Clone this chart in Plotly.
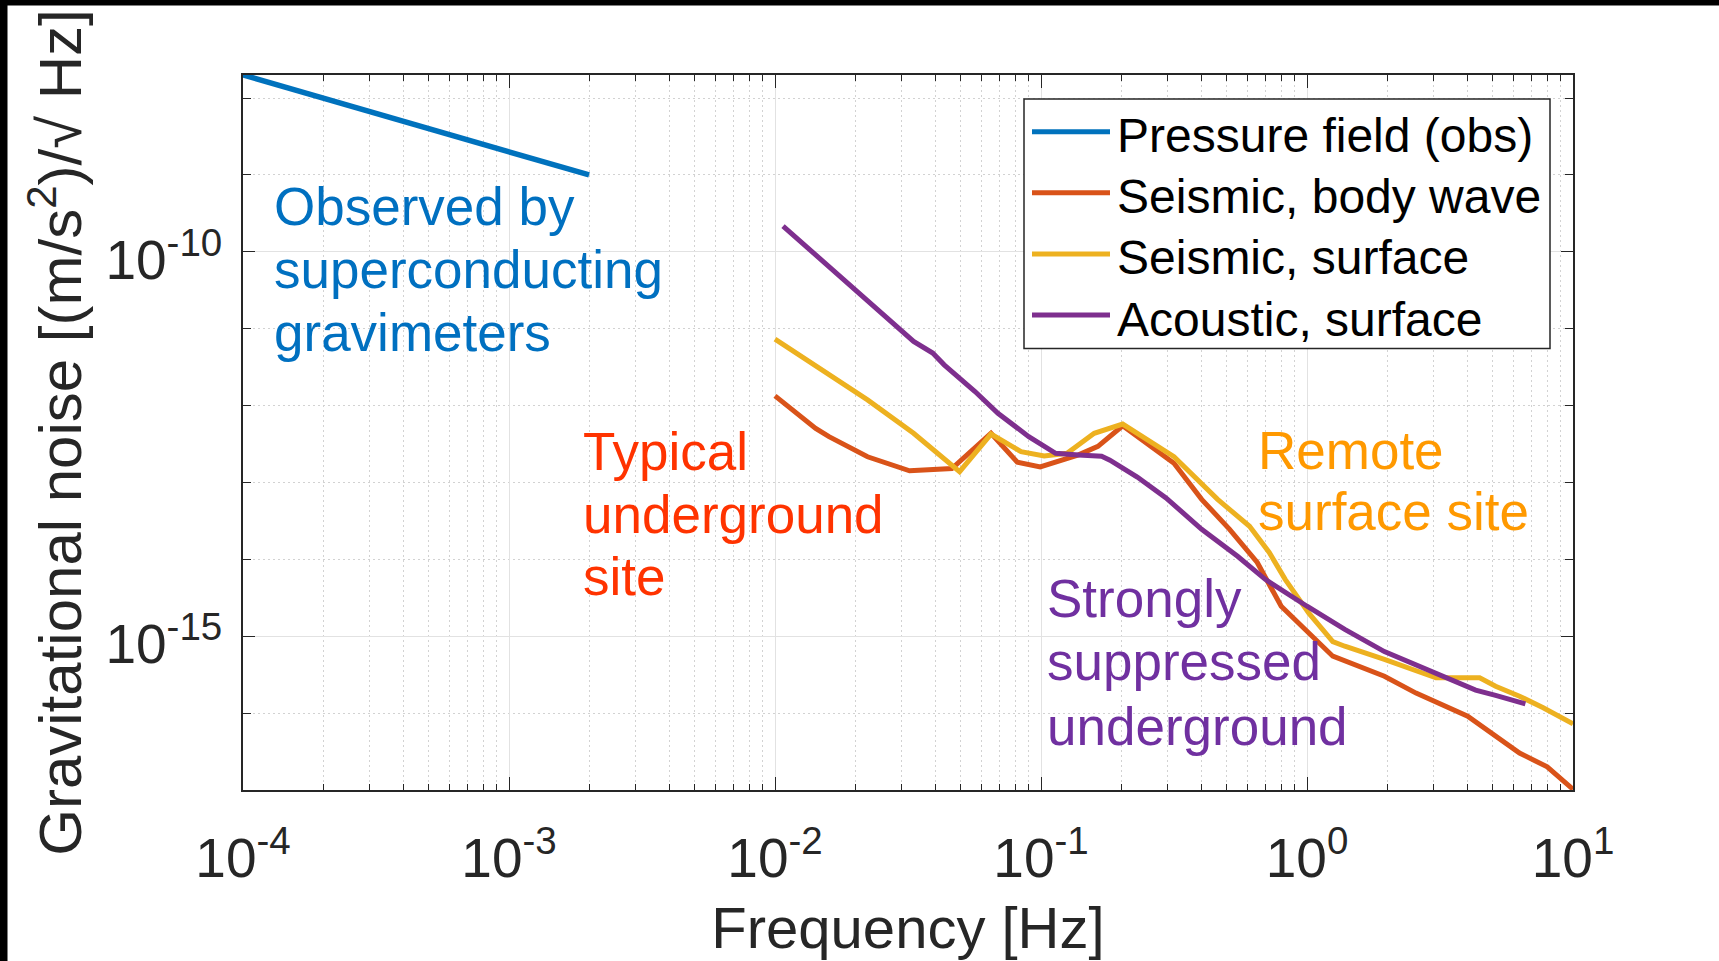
import plotly.graph_objects as go

# ---------------- data ----------------
series_names = ["Pressure field (obs)", "Seismic, body wave", "Seismic, surface", "Acoustic, surface"]
series_colors = ["#0072BD", "#D95319", "#EDB120", "#7E2F8E"]

pressure_freq = [1.0e-4, 2.0e-3]
pressure_noise = [2.0e-8, 1.0e-9]

body_freq = [0.0100, 0.01422, 0.01596, 0.02228, 0.03206, 0.04624, 0.06486, 0.08147,
             0.09931, 0.1384, 0.1637, 0.2028, 0.3162, 0.4018, 0.5117, 0.6501,
             0.7998, 0.9840, 1.250, 1.954, 2.570, 4.018, 6.295, 8.000, 10.0]
body_noise = [1.337e-12, 5.06e-13, 3.94e-13, 2.16e-13, 1.419e-13, 1.514e-13, 4.37e-13, 1.84e-13,
              1.592e-13, 2.29e-13, 2.95e-13, 5.47e-13, 1.778e-13, 6.03e-14, 2.455e-14, 9.12e-15,
              2.455e-15, 1.230e-15, 5.50e-16, 3.02e-16, 1.820e-16, 9.12e-17, 3.02e-17, 2.00e-17, 1.023e-17]

surface_freq = [0.0100, 0.01445, 0.02228, 0.03319, 0.04550, 0.04943, 0.06486, 0.08414,
                0.1028, 0.1253, 0.1585, 0.2028, 0.3162, 0.4613, 0.6081, 0.7211,
                0.8279, 1.016, 1.250, 1.387, 1.954, 3.055, 3.631, 4.457,
                5.117, 6.295, 7.727, 10.0]
surface_noise = [7.328e-12, 3.236e-12, 1.186e-12, 4.365e-13, 1.778e-13, 1.380e-13, 4.266e-13, 2.512e-13,
                 2.208e-13, 2.399e-13, 4.365e-13, 5.754e-13, 2.163e-13, 6.026e-14, 2.692e-14, 1.230e-14,
                 5.495e-15, 1.995e-15, 8.511e-16, 7.413e-16, 5.012e-16, 2.884e-16, 2.884e-16, 2.884e-16,
                 2.239e-16, 1.660e-16, 1.175e-16, 7.244e-17]

acoustic_freq = [0.01072, 0.01596, 0.02228, 0.03319, 0.03917, 0.04325, 0.05649, 0.06887,
                 0.08995, 0.1135, 0.1384, 0.1690, 0.1816, 0.2301, 0.2951, 0.4018,
                 0.5483, 0.6966, 1.000, 1.387, 1.954, 3.162, 4.305, 5.117, 6.622]
acoustic_noise = [2.163e-10, 6.501e-11, 2.388e-11, 6.839e-12, 4.819e-12, 3.388e-12, 1.524e-12, 7.943e-13,
                  3.945e-13, 2.399e-13, 2.275e-13, 2.188e-13, 1.950e-13, 1.175e-13, 6.310e-14, 2.455e-14,
                  1.096e-14, 5.495e-15, 2.455e-15, 1.230e-15, 6.310e-16, 3.162e-16, 1.995e-16, 1.698e-16, 1.318e-16]

x_tickvals = [1e-4, 1e-3, 1e-2, 1e-1, 1e0, 1e1]
x_ticktext = ["10<sup>-4</sup>", "10<sup>-3</sup>", "10<sup>-2</sup>", "10<sup>-1</sup>",
              "10<sup>0</sup>", "10<sup>1</sup>"]
x_minorvals = [m * 10.0 ** k for k in range(-4, 1) for m in range(2, 10)]
y_tickvals = [1e-15, 1e-10]
y_ticktext = ["10<sup>-15</sup>", "10<sup>-10</sup>"]
y_minorvals = [10.0 ** k for k in range(-17, -7)]

x_title = "Frequency [Hz]"
y_title = "Gravitational noise [(m/s<sup>2</sup>)/√ Hz]"

note_blue = ["Observed by", "superconducting", "gravimeters"]
note_red = ["Typical", "underground", "site"]
note_orange = ["Remote", "surface site"]
note_purple = ["Strongly", "suppressed", "underground"]

# ---------------- layout geometry ----------------
FW, FH = 1719, 961
ML, MR, MT, MB = 243, 146, 75, 171
PW, PH = FW - ML - MR, FH - MT - MB
FONT = "Liberation Sans, Arial, Helvetica, sans-serif"
AXC = "#262626"


def px(X):
    return (X - ML) / PW


def py(Y):
    return (MT + PH - Y) / PH


fig = go.Figure()
all_x = [pressure_freq, body_freq, surface_freq, acoustic_freq]
all_y = [pressure_noise, body_noise, surface_noise, acoustic_noise]
widths = [5.5, 5, 5, 5]
for xs, ys, name, col, w in zip(all_x, all_y, series_names, series_colors, widths):
    fig.add_trace(go.Scatter(x=xs, y=ys, mode="lines", name=name, showlegend=False,
                             line=dict(color=col, width=w), cliponaxis=False))

shapes = []
annotations = []

# black screenshot borders (top & left)
shapes.append(dict(type="rect", xref="paper", yref="paper", x0=px(0), x1=px(FW), y0=py(5.5), y1=py(0),
                   fillcolor="black", line=dict(width=0), layer="above"))
shapes.append(dict(type="rect", xref="paper", yref="paper", x0=px(0), x1=px(7.5), y0=py(FH), y1=py(0),
                   fillcolor="black", line=dict(width=0), layer="above"))

# legend box (drawn manually to match the long MATLAB line samples)
LEG_L, LEG_R, LEG_T, LEG_B = 1024, 1550, 99, 348.5
shapes.append(dict(type="rect", xref="paper", yref="paper", x0=px(LEG_L), x1=px(LEG_R),
                   y0=py(LEG_B), y1=py(LEG_T), fillcolor="white",
                   line=dict(color=AXC, width=1.5), layer="above"))
for i, (name, col) in enumerate(zip(series_names, series_colors)):
    ry = 131.7 + i * 61.1
    shapes.append(dict(type="line", xref="paper", yref="paper", x0=px(1032), x1=px(1110),
                       y0=py(ry), y1=py(ry), line=dict(color=col, width=5), layer="above"))
    annotations.append(dict(text=name, xref="paper", yref="paper", x=px(1115), y=py(ry + 4),
                            xanchor="left", yanchor="middle", showarrow=False,
                            font=dict(family=FONT, size=48, color="black")))


def add_note(lines, left, baselines, color, size=53):
    for t, b in zip(lines, baselines):
        annotations.append(dict(text=t, xref="paper", yref="paper", x=px(left), y=py(b - 0.3465 * size),
                                xanchor="left", yanchor="middle", showarrow=False,
                                font=dict(family=FONT, size=size, color=color)))


add_note(note_blue, 272, [224.7, 288.3, 350.8], "#0070C0")
add_note(note_red, 581, [470, 533.3, 595], "#FF3300")
add_note(note_orange, 1256, [469.3, 530], "#FF9900")
add_note(note_purple, 1045, [616.7, 680, 745], "#7030A0")

axis_common = dict(
    type="log", showline=True, linecolor=AXC, linewidth=1.5, mirror="ticks",
    ticks="inside", tickcolor=AXC, tickwidth=1.2,
    showgrid=True, gridcolor="#e2e2e2", gridwidth=1, zeroline=False,
    tickfont=dict(family=FONT, size=55, color=AXC),
)

fig.update_layout(
    width=FW, height=FH,
    margin=dict(l=ML, r=MR, t=MT, b=MB, pad=0),
    paper_bgcolor="white", plot_bgcolor="white",
    showlegend=False,
    xaxis=dict(
        **axis_common,
        range=[-4, 1],
        tickmode="array", tickvals=x_tickvals, ticktext=x_ticktext, ticklen=13,
        ticklabelstandoff=19,
        minor=dict(tickmode="array", tickvals=x_minorvals, ticks="inside", ticklen=6,
                   tickcolor=AXC, tickwidth=1.2, showgrid=True, gridcolor="#d2d2d2",
                   griddash="2px,3px", gridwidth=1),
        title=dict(text=x_title, font=dict(family=FONT, size=58, color=AXC), standoff=20),
    ),
    yaxis=dict(
        **axis_common,
        range=[-17, -7.7],
        tickmode="array", tickvals=y_tickvals, ticktext=y_ticktext, ticklen=12,
        ticklabelstandoff=8, ticklabelshift=8,
        minor=dict(tickmode="array", tickvals=y_minorvals, ticks="inside", ticklen=8,
                   tickcolor=AXC, tickwidth=1.2, showgrid=True, gridcolor="#d2d2d2",
                   griddash="2px,3px", gridwidth=1),
        title=dict(text=y_title, font=dict(family=FONT, size=60, color=AXC), standoff=4),
    ),
    shapes=shapes,
    annotations=annotations,
)

fig.write_html(
    "out.html",
    config={"displayModeBar": False},
    post_script="document.body.style.margin='0';document.body.style.overflow='hidden';",
)
